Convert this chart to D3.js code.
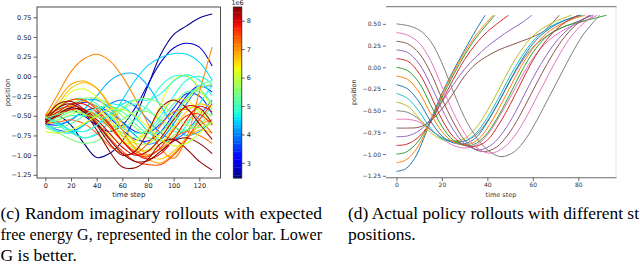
<!DOCTYPE html>
<html><head><meta charset="utf-8">
<script src="https://cdn.jsdelivr.net/npm/d3@7"></script>
<style>
html,body{margin:0;padding:0;background:#fff;overflow:hidden;}
svg{display:block;}
</style></head>
<body>
<svg id="c" width="640" height="266"></svg>
<script>
// ---------- DATA ----------
// (c) imagined rollouts: positions sampled every 10 time steps, with expected free energy G (x1e6)
const imaginedSteps = [0,10,20,30,40,50,60,70,80,90,100,110,120,130];
const imaginedG = [2.5,2.9,3.3,3.6,3.9,4.1,4.3,4.5,4.6,4.8,4.9,5.1,5.3,5.5,5.7,5.9,6.0,6.2,6.4,6.6,6.7,6.9,7.1,7.2,7.3,7.5,7.6,7.9,8.1,8.3,8.4,8.45,4.7,5.2,5.6,6.1];
const imaginedPositions = [
 [-0.52,-0.5,-0.62,-0.85,-1.03,-0.98,-0.82,-0.52,-0.12,0.28,0.53,0.64,0.74,0.79],
 [-0.5,-0.45,-0.42,-0.5,-0.62,-0.7,-0.62,-0.4,-0.1,0.18,0.36,0.42,0.37,0.13],
 [-0.55,-0.48,-0.4,-0.33,-0.38,-0.52,-0.68,-0.8,-0.82,-0.7,-0.48,-0.25,-0.12,-0.2],
 [-0.6,-0.62,-0.55,-0.45,-0.4,-0.45,-0.58,-0.7,-0.72,-0.6,-0.4,-0.22,-0.25,-0.48],
 [-0.6,-0.68,-0.7,-0.62,-0.48,-0.35,-0.3,-0.38,-0.55,-0.72,-0.8,-0.7,-0.5,-0.3],
 [-0.53,-0.48,-0.38,-0.3,-0.3,-0.4,-0.58,-0.75,-0.86,-0.8,-0.6,-0.35,-0.15,-0.12],
 [-0.55,-0.6,-0.55,-0.42,-0.25,-0.06,0.03,0.03,-0.12,-0.38,-0.62,-0.75,-0.7,-0.55],
 [-0.5,-0.58,-0.7,-0.78,-0.74,-0.56,-0.3,-0.05,0.14,0.24,0.29,0.28,0.18,-0.05],
 [-0.62,-0.7,-0.72,-0.62,-0.45,-0.35,-0.38,-0.52,-0.7,-0.82,-0.8,-0.62,-0.35,-0.12],
 [-0.5,-0.42,-0.3,-0.28,-0.35,-0.5,-0.65,-0.72,-0.68,-0.5,-0.25,-0.05,0.0,-0.1],
 [-0.6,-0.55,-0.5,-0.5,-0.55,-0.62,-0.65,-0.55,-0.35,-0.12,0.0,0.0,-0.15,-0.35],
 [-0.55,-0.62,-0.72,-0.78,-0.72,-0.58,-0.42,-0.35,-0.42,-0.58,-0.7,-0.68,-0.55,-0.4],
 [-0.57,-0.52,-0.45,-0.42,-0.48,-0.6,-0.72,-0.78,-0.72,-0.55,-0.35,-0.2,-0.2,-0.35],
 [-0.65,-0.72,-0.8,-0.85,-0.82,-0.7,-0.55,-0.45,-0.45,-0.55,-0.65,-0.68,-0.6,-0.48],
 [-0.55,-0.45,-0.35,-0.28,-0.28,-0.36,-0.5,-0.65,-0.78,-0.82,-0.75,-0.58,-0.45,-0.5],
 [-0.6,-0.55,-0.48,-0.45,-0.5,-0.62,-0.76,-0.85,-0.85,-0.72,-0.55,-0.4,-0.42,-0.6],
 [-0.48,-0.38,-0.3,-0.3,-0.42,-0.6,-0.8,-0.92,-0.93,-0.78,-0.55,-0.3,-0.15,-0.1],
 [-0.55,-0.4,-0.2,-0.16,-0.26,-0.45,-0.68,-0.82,-0.7,-0.35,-0.05,0.01,-0.15,-0.42],
 [-0.52,-0.45,-0.42,-0.48,-0.6,-0.75,-0.85,-0.82,-0.66,-0.45,-0.3,-0.3,-0.45,-0.62],
 [-0.58,-0.5,-0.38,-0.32,-0.38,-0.55,-0.75,-0.9,-0.95,-0.85,-0.65,-0.45,-0.35,-0.4],
 [-0.5,-0.35,-0.15,-0.08,-0.15,-0.35,-0.6,-0.85,-1.0,-1.05,-0.95,-0.78,-0.68,-0.72],
 [-0.55,-0.3,-0.1,-0.06,-0.15,-0.38,-0.68,-0.92,-1.05,-1.1,-0.98,-0.8,-0.62,-0.55],
 [-0.5,-0.22,0.06,0.22,0.28,0.2,0.0,-0.28,-0.6,-0.92,-1.04,-0.78,-0.2,0.37],
 [-0.57,-0.5,-0.42,-0.42,-0.5,-0.65,-0.82,-0.95,-1.0,-0.92,-0.78,-0.7,-0.75,-0.85],
 [-0.6,-0.58,-0.55,-0.6,-0.72,-0.88,-0.98,-0.98,-0.85,-0.62,-0.45,-0.42,-0.55,-0.72],
 [-0.5,-0.42,-0.38,-0.42,-0.58,-0.78,-0.95,-1.08,-1.12,-1.12,-1.0,-0.8,-0.55,-0.35],
 [-0.55,-0.4,-0.3,-0.3,-0.42,-0.6,-0.82,-0.98,-1.02,-0.9,-0.68,-0.5,-0.48,-0.62],
 [-0.55,-0.45,-0.35,-0.35,-0.45,-0.62,-0.82,-0.98,-1.05,-0.98,-0.8,-0.55,-0.38,-0.45],
 [-0.58,-0.5,-0.42,-0.42,-0.55,-0.72,-0.9,-1.0,-0.95,-0.78,-0.55,-0.38,-0.4,-0.6],
 [-0.55,-0.35,-0.32,-0.42,-0.62,-0.85,-1.0,-0.95,-0.7,-0.4,-0.3,-0.4,-0.6,-0.8],
 [-0.58,-0.4,-0.35,-0.45,-0.68,-0.95,-1.15,-1.16,-1.05,-0.85,-0.8,-0.92,-1.08,-1.19],
 [-0.6,-0.48,-0.4,-0.45,-0.6,-0.8,-0.98,-1.08,-1.07,-0.95,-0.82,-0.78,-0.85,-0.98],
 [-0.52,-0.6,-0.68,-0.7,-0.62,-0.48,-0.35,-0.3,-0.3,-0.22,-0.06,0.02,-0.05,-0.25],
 [-0.62,-0.65,-0.6,-0.5,-0.4,-0.38,-0.45,-0.6,-0.72,-0.7,-0.52,-0.28,-0.12,-0.05],
 [-0.53,-0.48,-0.45,-0.48,-0.52,-0.5,-0.4,-0.3,-0.28,-0.35,-0.5,-0.62,-0.65,-0.58],
 [-0.7,-0.72,-0.68,-0.6,-0.5,-0.42,-0.42,-0.5,-0.65,-0.8,-0.88,-0.85,-0.72,-0.58]
];
const imaginedXTicks = [0,20,40,60,80,100,120];
const imaginedYTicks = [-1.25,-1.0,-0.75,-0.5,-0.25,0,0.25,0.5,0.75];
const colorbarTicks = [3,4,5,6,7,8];
const colorbarDomain = [2.47, 8.48];

// (d) actual policy rollouts: start positions and [time step, position] traces
const policyStarts = [-1.2,-1.1,-1.0,-0.9,-0.8,-0.7,-0.6,-0.5,-0.4,-0.3,-0.2,-0.1,0.0,0.1,0.2,0.3,0.4,0.5];
const policyTraces = [
 [[0,-1.2],[4,-1.17],[8,-1.05],[12,-0.82],[16,-0.55],[20,-0.3],[25,-0.04],[30,0.2],[35,0.43],[39,0.6]],
 [[0,-1.1],[4,-1.07],[8,-0.97],[12,-0.79],[16,-0.56],[20,-0.32],[25,-0.06],[30,0.17],[35,0.37],[42.5,0.6]],
 [[0,-1.0],[4,-0.98],[8,-0.9],[12,-0.76],[16,-0.57],[20,-0.35],[25,-0.09],[30,0.14],[35,0.34],[43.3,0.6]],
 [[0,-0.9],[4,-0.89],[8,-0.84],[12,-0.74],[16,-0.59],[20,-0.39],[25,-0.14],[30,0.09],[35,0.27],[40,0.41],[49.3,0.6]],
 [[0,-0.8],[5,-0.79],[10,-0.73],[15,-0.6],[20,-0.4],[25,-0.2],[30,-0.02],[35,0.12],[40,0.24],[45,0.34],[50,0.43],[55,0.51],[59.6,0.6]],
 [[0,-0.7],[5,-0.7],[10,-0.69],[15,-0.62],[20,-0.48],[25,-0.3],[30,-0.1],[35,0.04],[40,0.13],[45,0.2],[50,0.25],[55,0.3],[60,0.35],[65,0.42],[71.6,0.6]],
 [[0,-0.6],[5,-0.6],[10,-0.63],[15,-0.72],[20,-0.82],[25,-0.9],[30,-0.93],[35,-0.9],[40,-0.78],[45,-0.58],[50,-0.35],[55,-0.11],[60,0.1],[65,0.26],[70,0.37],[75,0.45],[80,0.51],[85,0.56],[88.5,0.6]],
 [[0,-0.5],[5,-0.52],[10,-0.6],[15,-0.72],[20,-0.81],[25,-0.85],[30,-0.85],[35,-0.78],[40,-0.62],[45,-0.4],[50,-0.16],[55,0.06],[60,0.23],[65,0.34],[70,0.42],[75,0.48],[80,0.53],[85.6,0.6]],
 [[0,-0.4],[5,-0.45],[10,-0.59],[15,-0.75],[20,-0.83],[25,-0.85],[30,-0.82],[35,-0.7],[40,-0.5],[45,-0.26],[50,-0.01],[55,0.2],[60,0.36],[65,0.46],[70,0.53],[77,0.6]],
 [[0,-0.3],[5,-0.36],[10,-0.51],[15,-0.7],[20,-0.82],[25,-0.86],[30,-0.85],[35,-0.76],[40,-0.58],[45,-0.35],[50,-0.1],[55,0.12],[60,0.3],[65,0.42],[70,0.5],[76,0.56],[82,0.6]],
 [[0,-0.2],[5,-0.25],[10,-0.4],[15,-0.62],[20,-0.79],[25,-0.87],[30,-0.88],[35,-0.81],[40,-0.63],[45,-0.4],[50,-0.15],[55,0.08],[60,0.27],[65,0.4],[70,0.49],[75,0.55],[81,0.6]],
 [[0,-0.1],[5,-0.14],[10,-0.29],[15,-0.53],[20,-0.74],[25,-0.86],[31,-0.89],[36,-0.83],[41,-0.66],[46,-0.43],[51,-0.18],[56,0.06],[61,0.25],[66,0.39],[71,0.48],[77,0.55],[83,0.6]],
 [[0,0.0],[5,-0.04],[10,-0.18],[15,-0.43],[20,-0.68],[25,-0.84],[30,-0.9],[34,-0.89],[39,-0.79],[44,-0.6],[49,-0.36],[54,-0.1],[59,0.13],[64,0.3],[69,0.41],[75,0.48],[82,0.53],[88,0.57],[92.5,0.6]],
 [[0,0.1],[5,0.07],[10,-0.07],[15,-0.32],[20,-0.6],[25,-0.8],[30,-0.9],[35,-0.91],[40,-0.84],[45,-0.66],[50,-0.43],[55,-0.17],[60,0.08],[65,0.28],[70,0.43],[75,0.53],[80,0.6]],
 [[0,0.2],[5,0.17],[10,0.04],[15,-0.2],[20,-0.48],[25,-0.72],[30,-0.88],[36,-0.95],[41,-0.91],[46,-0.78],[51,-0.58],[56,-0.33],[61,-0.08],[66,0.14],[71,0.32],[76,0.45],[81,0.54],[86.4,0.6]],
 [[0,0.3],[5,0.27],[10,0.16],[15,-0.06],[20,-0.36],[25,-0.63],[30,-0.84],[35,-0.95],[39,-0.97],[44,-0.92],[49,-0.78],[54,-0.57],[59,-0.32],[64,-0.07],[69,0.16],[74,0.35],[79,0.49],[85,0.6]],
 [[0,0.4],[5,0.37],[10,0.28],[15,0.08],[20,-0.22],[25,-0.52],[30,-0.76],[35,-0.92],[41,-0.99],[47,-0.93],[52,-0.79],[57,-0.58],[62,-0.33],[67,-0.08],[72,0.16],[77,0.36],[82,0.5],[87,0.6]],
 [[0,0.5],[5,0.48],[10,0.43],[15,0.3],[20,0.05],[25,-0.28],[30,-0.58],[35,-0.8],[40,-0.95],[46,-1.03],[52,-0.97],[57,-0.82],[62,-0.6],[67,-0.35],[72,-0.1],[77,0.15],[82,0.37],[86,0.5],[89.5,0.6]]
];
const policyXTicks = [0,20,40,60,80];
const policyYTicks = [-1.25,-1.0,-0.75,-0.5,-0.25,0,0.25,0.5];
const tab10 = ["#1f77b4","#ff7f0e","#2ca02c","#d62728","#9467bd","#8c564b","#e377c2","#7f7f7f","#bcbd22","#17becf"];

const captionLeft = ["(c) Random imaginary rollouts with expected",
                     "free energy G, represented in the color bar. Lower",
                     "G is better."];
// the right caption is cut at the picture's edge in the reference
const captionRight = ["(d) Actual policy rollouts with different st", "positions."];

// ---------- helpers ----------
function jet(t){
  t = Math.max(0, Math.min(1, t));
  const seg = (pts) => {
    for (let i=1;i<pts.length;i++){
      if (t <= pts[i][0]) {
        const [x0,y0]=pts[i-1],[x1,y1]=pts[i];
        return y0 + (y1-y0)*(t-x0)/(x1-x0);
      }
    }
    return pts[pts.length-1][1];
  };
  const r = seg([[0,0],[0.35,0],[0.66,1],[0.89,1],[1,0.5]]);
  const g = seg([[0,0],[0.125,0],[0.375,1],[0.64,1],[0.91,0],[1,0]]);
  const b = seg([[0,0.5],[0.11,1],[0.34,1],[0.65,0],[1,0]]);
  return d3.rgb(r*255,g*255,b*255).formatHex();
}
const fmt2 = d3.format(".2f");

const svg = d3.select("#c");
const tickFont = "DejaVu Sans";

// ---------- LEFT PANEL ----------
const L = {x0:37, x1:220.5, y0:7, y1:178};
const xL = d3.scaleLinear().domain([-6.5,136.5]).range([L.x0,L.x1]);
const yL = d3.scaleLinear().domain([-1.29,0.88]).range([L.y1,L.y0]);
const cNorm = d3.scaleLinear().domain(colorbarDomain).range([0,1]);

const gL = svg.append("g");
gL.append("defs").append("clipPath").attr("id","clipL").append("rect")
  .attr("x",L.x0).attr("y",L.y0).attr("width",L.x1-L.x0).attr("height",L.y1-L.y0);
const lineL = d3.line().x((d,i)=>xL(imaginedSteps[i])).y(d=>yL(d)).curve(d3.curveCatmullRom.alpha(0.5));
gL.append("g").attr("clip-path","url(#clipL)")
  .selectAll("path").data(imaginedPositions).join("path")
  .attr("d", d=>lineL(d)).attr("fill","none")
  .attr("stroke",(d,i)=>jet(cNorm(imaginedG[i]))).attr("stroke-width",1.05);

const axLx = gL.append("g").attr("transform",`translate(0,${L.y1})`)
  .call(d3.axisBottom(xL).tickValues(imaginedXTicks).tickSize(3.5).tickPadding(2).tickFormat(d3.format("d")));
const axLy = gL.append("g").attr("transform",`translate(${L.x0},0)`)
  .call(d3.axisLeft(yL).tickValues(imaginedYTicks).tickSize(3.5).tickPadding(2).tickFormat(fmt2));
[axLx,axLy].forEach(a=>{
  a.select(".domain").remove();
  a.selectAll("line").attr("stroke","#222").attr("stroke-width",0.7);
  a.selectAll("text").attr("font-family",tickFont).attr("font-size",6.5).attr("fill","#222");
});
gL.append("rect").attr("x",L.x0).attr("y",L.y0).attr("width",L.x1-L.x0).attr("height",L.y1-L.y0)
  .attr("fill","none").attr("stroke","#222").attr("stroke-width",0.8);
gL.append("text").attr("x",(L.x0+L.x1)/2).attr("y",196.5).attr("text-anchor","middle")
  .attr("font-family",tickFont).attr("font-size",7).attr("fill","#222").text("time step");
gL.append("text").attr("transform",`translate(10,${(L.y0+L.y1)/2}) rotate(-90)`).attr("text-anchor","middle")
  .attr("font-family",tickFont).attr("font-size",7).attr("fill","#222").text("position");

// colorbar
const CB = {x0:233.3, x1:241.8, y0:7, y1:178};
const yCB = d3.scaleLinear().domain(colorbarDomain).range([CB.y1,CB.y0]);
const nSteps = 64;
const cbSteps = d3.range(nSteps);
gL.append("g").selectAll("rect").data(cbSteps).join("rect")
  .attr("x",CB.x0).attr("width",CB.x1-CB.x0)
  .attr("y",i=>CB.y1-(i+1)*(CB.y1-CB.y0)/nSteps).attr("height",(CB.y1-CB.y0)/nSteps+0.3)
  .attr("fill",i=>jet((i+0.5)/nSteps));
gL.append("rect").attr("x",CB.x0).attr("y",CB.y0).attr("width",CB.x1-CB.x0).attr("height",CB.y1-CB.y0)
  .attr("fill","none").attr("stroke","#222").attr("stroke-width",0.8);
const axCB = gL.append("g").attr("transform",`translate(${CB.x1},0)`)
  .call(d3.axisRight(yCB).tickValues(colorbarTicks).tickSize(3).tickPadding(2).tickFormat(d3.format("d")));
axCB.select(".domain").remove();
axCB.selectAll("line").attr("stroke","#222").attr("stroke-width",0.7);
axCB.selectAll("text").attr("font-family",tickFont).attr("font-size",6.5).attr("fill","#222");
gL.append("text").attr("x",(CB.x0+CB.x1)/2).attr("y",5).attr("text-anchor","middle")
  .attr("font-family",tickFont).attr("font-size",6.5).attr("fill","#222").text("1e6");

// ---------- RIGHT PANEL ----------
const R = {x0:386, x1:616, y0:6.7, y1:177.7};
const xR = d3.scaleLinear().domain([-4.6,96.6]).range([R.x0,R.x1]);
const yR = d3.scaleLinear().domain([-1.272,0.698]).range([R.y1,R.y0]);
const gR = svg.append("g");
const lineR = d3.line().x(d=>xR(d[0])).y(d=>yR(d[1])).curve(d3.curveCatmullRom.alpha(0.5));
gR.append("g").selectAll("path").data(policyTraces).join("path")
  .attr("d",d=>lineR(d)).attr("fill","none")
  .attr("stroke",(d,i)=>tab10[i%10]).attr("stroke-width",1);
// spines
gR.append("line").attr("x1",R.x1).attr("x2",R.x1).attr("y1",R.y0).attr("y2",R.y1).attr("stroke","#e4e4e4").attr("stroke-width",1);
gR.append("line").attr("x1",R.x0).attr("x2",R.x1+0.5).attr("y1",R.y0).attr("y2",R.y0).attr("stroke","#8a8a8a").attr("stroke-width",1.3);
gR.append("line").attr("x1",R.x0).attr("x2",R.x1+0.5).attr("y1",R.y1).attr("y2",R.y1).attr("stroke","#6a6a6a").attr("stroke-width",1.1);
const axRx = gR.append("g").attr("transform",`translate(0,${R.y1})`)
  .call(d3.axisBottom(xR).tickValues(policyXTicks).tickSize(3.5).tickPadding(2).tickFormat(d3.format("d")));
const axRy = gR.append("g").attr("transform",`translate(${R.x0},0)`)
  .call(d3.axisLeft(yR).tickValues(policyYTicks).tickSize(3).tickPadding(2).tickFormat(fmt2));
[axRx,axRy].forEach(a=>{
  a.select(".domain").remove();
  a.selectAll("line").attr("stroke","#333").attr("stroke-width",0.7);
  a.selectAll("text").attr("font-family",tickFont).attr("font-size",6).attr("fill","#333");
});
gR.append("text").attr("x",(R.x0+R.x1)/2).attr("y",196.5).attr("text-anchor","middle")
  .attr("font-family",tickFont).attr("font-size",6.5).attr("fill","#333").text("time step");
gR.append("text").attr("transform",`translate(356,${(R.y0+R.y1)/2}) rotate(-90)`).attr("text-anchor","middle")
  .attr("font-family",tickFont).attr("font-size",6.5).attr("fill","#333").text("position");

// ---------- CAPTIONS ----------
const capFont = "Liberation Serif", capSize = 17.5;
function justified(x, y, str, target){
  const t = svg.append("text").attr("x",x).attr("y",y)
    .attr("font-family",capFont).attr("font-size",capSize).attr("fill","#000")
    .attr("xml:space","preserve").text(str);
  const w = t.node().getComputedTextLength();
  const spaces = (str.match(/ /g)||[]).length;
  if (target && spaces) {
    if (w < target) t.attr("word-spacing", (target-w)/spaces);
    else t.attr("textLength", target).attr("lengthAdjust","spacingAndGlyphs");
  }
  return t;
}
justified(0.5, 219, captionLeft[0], 321.5);
justified(0.5, 240, captionLeft[1], 321.5);
justified(0.5, 260.5, captionLeft[2], null);
justified(348, 219, captionRight[0], 291);
justified(348, 240, captionRight[1], null);
</script>
</body></html>
